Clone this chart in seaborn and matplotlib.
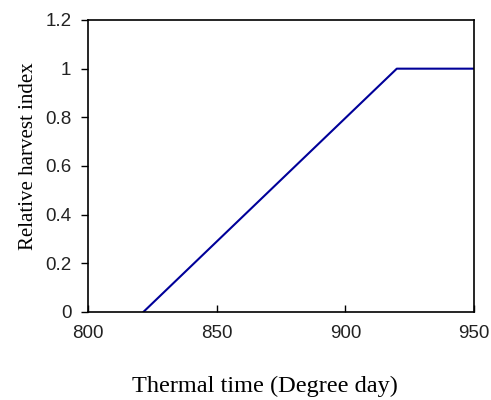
import matplotlib
matplotlib.use("Agg")
import matplotlib.pyplot as plt
import pandas as pd
import seaborn as sns

# data
thermal_time = [821.5, 920, 950]
relative_hi = [0, 1, 1]
x_ticks = [800, 850, 900, 950]
y_ticks = [0, 0.2, 0.4, 0.6, 0.8, 1, 1.2]
y_tick_labels = ["0", "0.2", "0.4", "0.6", "0.8", "1", "1.2"]

df = pd.DataFrame({"tt": thermal_time, "rhi": relative_hi})

sns.set_style("white")
plt.rcParams["font.family"] = ["Liberation Sans", "DejaVu Sans"]

fig = plt.figure(figsize=(4.91, 4.00), dpi=100)
ax = fig.add_axes([88 / 491, 88 / 400, 386 / 491, 292 / 400])

sns.lineplot(data=df, x="tt", y="rhi", color="#000099", linewidth=1.5, ax=ax)

ax.set_xlim(800, 950)
ax.set_ylim(0, 1.2)
ax.set_xticks(x_ticks)
ax.set_yticks(y_ticks)
ax.set_yticklabels(y_tick_labels)

for s in ax.spines.values():
    s.set_color("black")
    s.set_linewidth(1.2)

ax.tick_params(axis="x", direction="in", length=5, width=1, colors="black",
               labelcolor="#222222", labelsize=13.5, pad=9, bottom=True)
ax.tick_params(axis="y", direction="out", length=5, width=1, colors="black",
               labelcolor="#222222", labelsize=13.5, pad=7, left=True)

ax.set_xlabel("Thermal time (Degree day)", family=["Liberation Serif"],
              fontsize=17.5, color="black")
ax.xaxis.set_label_coords(0.459, -0.22)
ax.set_ylabel("Relative harvest index", family=["Liberation Serif"],
              fontsize=15, color="black")
ax.yaxis.set_label_coords(-0.13, 0.534)

fig.savefig("out.png", dpi=100)
